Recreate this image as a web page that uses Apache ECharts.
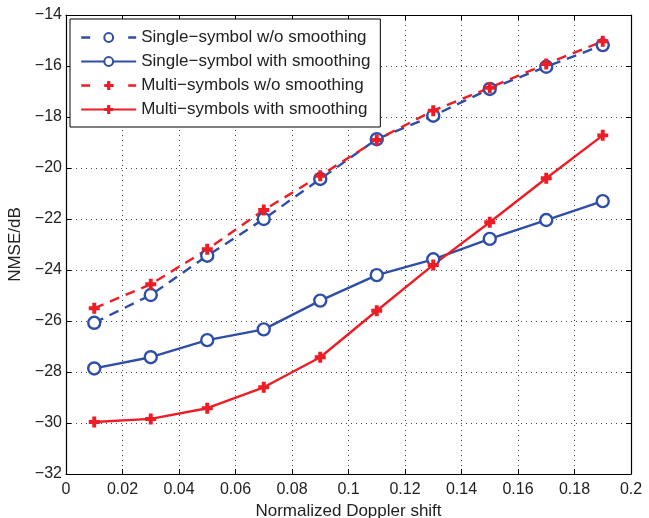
<!DOCTYPE html>
<html><head><meta charset="utf-8">
<script src="https://cdn.jsdelivr.net/npm/echarts@6/dist/echarts.min.js"></script>
<style>html,body{margin:0;padding:0;background:#fff}#c{width:649px;height:518px}</style>
</head><body><div id="c"></div>
<script>
const xVals = [0.01,0.03,0.05,0.07,0.09,0.11,0.13,0.15,0.17,0.19];
const singleNoSmooth = [-26.07,-24.98,-23.44,-22.0,-20.43,-18.87,-17.95,-16.9,-16.03,-15.18];
const singleSmooth = [-27.86,-27.42,-26.75,-26.33,-25.2,-24.2,-23.58,-22.78,-22.04,-21.3];
const multiNoSmooth = [-25.5,-24.56,-23.19,-21.65,-20.3,-18.9,-17.75,-16.85,-15.92,-15.03];
const multiSmooth = [-29.96,-29.84,-29.42,-28.6,-27.42,-25.6,-23.8,-22.13,-20.4,-18.72];
const names = ['Single\u2212symbol w/o smoothing','Single\u2212symbol with smoothing','Multi\u2212symbols w/o smoothing','Multi\u2212symbols with smoothing'];

const BLUE = '#2f4ea6', RED = '#ee1c25';
const cross = 'path://M3.2,0 L6.8,0 L6.8,3.2 L10,3.2 L10,6.8 L6.8,6.8 L6.8,10 L3.2,10 L3.2,6.8 L0,6.8 L0,3.2 L3.2,3.2 Z';
const pair = arr => xVals.map((x,i)=>[x,arr[i]]);
const fmt = v => String(v).replace('-', '\u2212');
const font = 'Liberation Sans, Arial, sans-serif';

function mk(name, data, color, dashed, sym) {
  return {
    name, type:'line', data: pair(data), xAxisIndex:0, yAxisIndex:0,
    symbol: sym, symbolSize: sym === cross ? 11 : 12,
    itemStyle: sym === cross ? {color: color, borderWidth:0} : {color:'#fff', borderColor: color, borderWidth: 2.4},
    lineStyle: {color, width: 2.4, type: dashed ? [10,7] : 'solid'},
    color, animation:false, z: 3
  };
}
const legendData = names.map((n,i)=> (i % 2 === 0)
  ? {name:n, lineStyle:{type:[9,14.5], width:2.4}}
  : {name:n});

const chart = echarts.init(document.getElementById('c'));
const axisCommon = {
  axisLine:{show:true, onZero:false, lineStyle:{color:'#000', width:1.2}},
  axisTick:{show:true, inside:true, length:5, lineStyle:{color:'#000'}},
};
chart.setOption({
  animation:false,
  backgroundColor:'#fff',
  grid:{left:66, right:18, top:15, bottom:44, containLabel:false, outerBoundsMode:'none'},
  legend:{
    orient:'vertical', left:70, top:19, data:legendData,
    backgroundColor:'#fff', borderColor:'#000', borderWidth:1,
    padding:[10,10,9,10], itemGap:7, itemWidth:55, itemHeight:11,
    textStyle:{fontFamily:font, fontSize:17, color:'#222'}
  },
  xAxis:[
    Object.assign({type:'value', min:0, max:0.2, interval:0.02, position:'bottom',
      axisLabel:{fontFamily:font, fontSize:16, color:'#222', margin:8, formatter: v=>fmt(+v.toFixed(2))},
      name:'Normalized Doppler shift', nameLocation:'middle', nameGap:28,
      nameTextStyle:{fontFamily:font, fontSize:17, color:'#222'},
      splitLine:{show:true, lineStyle:{color:'#444', type:[1,4], width:1}}}, axisCommon),
    Object.assign({type:'value', min:0, max:0.2, interval:0.02, position:'top',
      axisLabel:{show:false}, splitLine:{show:false}}, axisCommon)
  ],
  yAxis:[
    Object.assign({type:'value', min:-32, max:-14, interval:2, position:'left',
      axisLabel:{fontFamily:font, fontSize:16, color:'#222', margin:4, formatter: v=>fmt(v)},
      name:'NMSE/dB', nameLocation:'middle', nameGap:36, nameRotate:90,
      nameTextStyle:{fontFamily:font, fontSize:17, color:'#222'},
      splitLine:{show:true, lineStyle:{color:'#444', type:[1,4], width:1}}}, axisCommon),
    Object.assign({type:'value', min:-32, max:-14, interval:2, position:'right',
      axisLabel:{show:false}, splitLine:{show:false}}, axisCommon)
  ],
  series:[
    mk(names[0], singleNoSmooth, BLUE, true, 'circle'),
    mk(names[1], singleSmooth, BLUE, false, 'circle'),
    mk(names[2], multiNoSmooth, RED, true, cross),
    mk(names[3], multiSmooth, RED, false, cross)
  ]
});
</script></body></html>
